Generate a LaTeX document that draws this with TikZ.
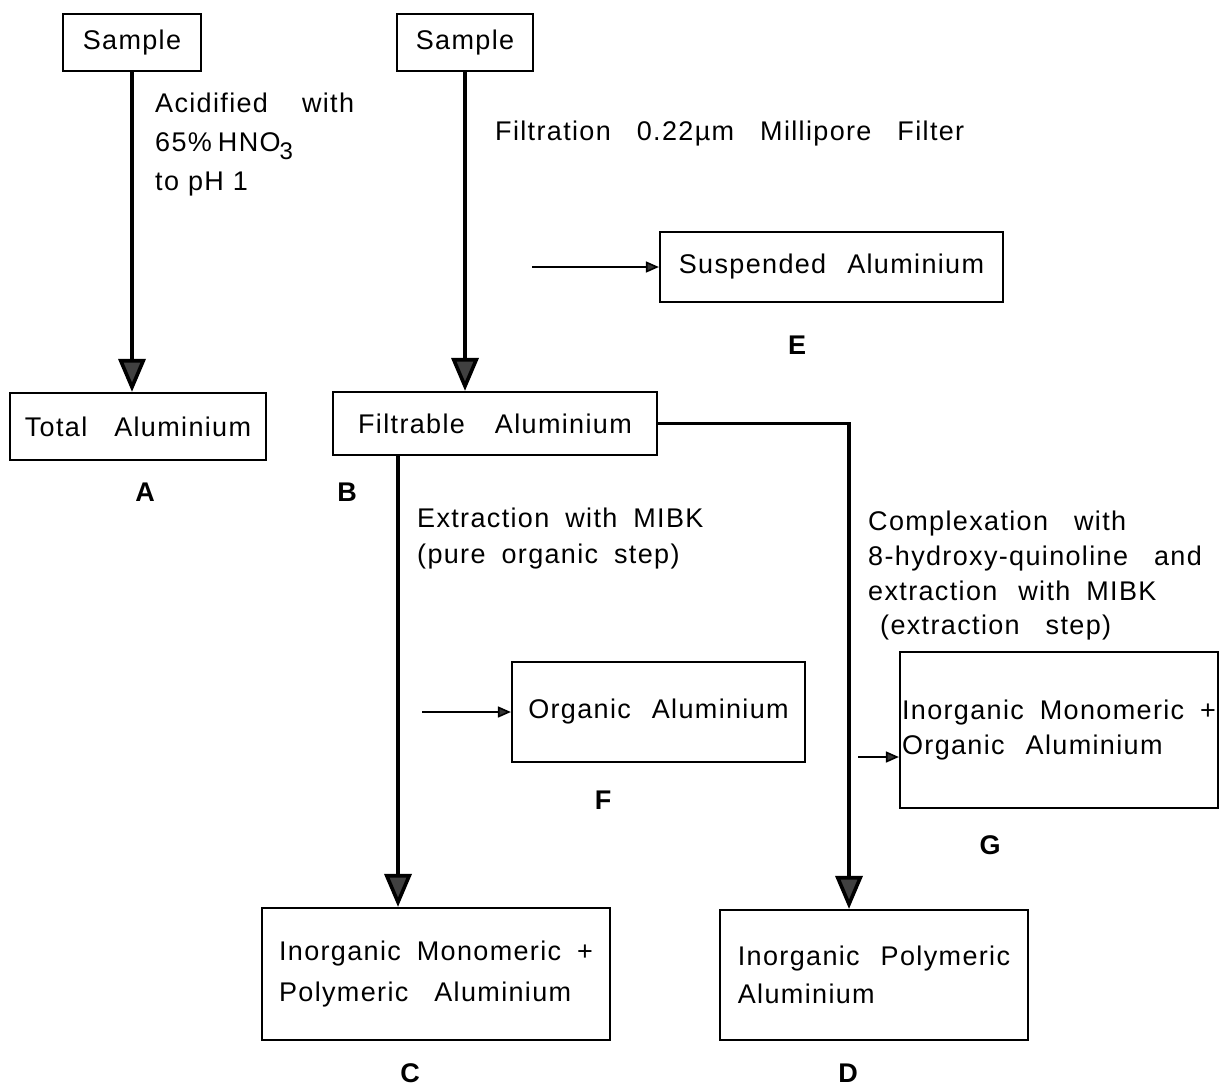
\documentclass[tikz,border=0pt]{standalone}
\usepackage{fontspec}
\setmainfont{Liberation Sans}[LetterSpace=5,WordSpace=1.8]
\usetikzlibrary{arrows.meta}
\newcommand\wgap{\hspace{26pt}}
\newcommand\mgap{\hspace{21pt}}
\begin{document}
\begin{tikzpicture}[x=1pt,y=-1pt,
  every node/.style={font=\fontsize{27}{36}\selectfont},
  box/.style={draw, line width=2.2pt, inner sep=0pt, align=left},
  txt/.style={anchor=base west, inner sep=0pt},
  lab/.style={font=\fontsize{27}{30}\selectfont\bfseries, inner sep=0pt},
  bigarrow/.style={line width=3.6pt, -{Triangle[width=27pt,length=33pt,fill=black!75]}},
  smallarrow/.style={line width=1.6pt, -{Triangle[width=11pt,length=13pt,fill=black!80]}}
]
\path[use as bounding box, fill=white] (0,0) rectangle (1220,1088);

% boxes
\node[box, minimum width=138pt, minimum height=57pt] (SA) at (132,42.5) {Sample};
\node[box, minimum width=136pt, minimum height=57pt] (SB) at (465,42.5) {Sample};
\node[box, minimum width=256pt, minimum height=67pt] (TA) at (138,426.5) {Total\hspace{27pt}Aluminium};
\node[box, minimum width=324pt, minimum height=63pt] (FB) at (495,423.5) {Filtrable\hspace{30pt}Aluminium};
\node[box, minimum width=343pt, minimum height=70pt] (E) at (831.5,267) {Suspended\mgap Aluminium};
\node[box, minimum width=293pt, minimum height=100pt] (F) at (658.5,712) {Organic\mgap Aluminium};
\node[box, minimum width=318pt, minimum height=156pt, font=\fontsize{27}{35}\selectfont] (G) at (1059,730) {Inorganic Monomeric +\\Organic\mgap Aluminium};
\node[box, minimum width=348pt, minimum height=132pt, font=\fontsize{27}{40}\selectfont] (C) at (436,974) {Inorganic Monomeric +\\Polymeric\wgap Aluminium};
\node[box, minimum width=308pt, minimum height=130pt, font=\fontsize{27}{38}\selectfont] (D) at (874,975) {Inorganic\mgap Polymeric\\Aluminium};

% free ends
\coordinate (cl) at (398,0);
\coordinate (dl) at (849,0);
\coordinate (es) at (532,267);
\coordinate (fs) at (422,712);
\coordinate (gs) at (858,757);

% connectors
\draw[bigarrow] (SA.south) -- (SA.south |- TA.north);
\draw[bigarrow] (SB.south) -- (SB.south |- FB.north);
\draw[bigarrow] (cl |- FB.south) -- (cl |- C.north);
\draw[bigarrow] (FB.east) -- (dl |- FB.east) -- (dl |- D.north);
\draw[smallarrow] (es) -- (E.west);
\draw[smallarrow] (fs) -- (F.west);
\draw[smallarrow] (gs) -- (gs -| G.west);

% step texts
\node[txt] (t1) at (155,112) {Acidified\hspace{34pt}with};
\node[txt] (t2) at (155,151) {65\%\hspace{6pt}HNO\kern-1pt\raisebox{-8pt}{\fontsize{24}{24}\selectfont 3}};
\node[txt] (t3) at (155,190) {to\hspace{9pt}pH\hspace{9pt}1};
\node[txt] (t4) at (495,140) {Filtration\wgap 0.22µm\wgap Millipore\wgap Filter};
\node[txt] (t5) at (417,527) {Extraction with MIBK};
\node[txt] (t6) at (417,563) {(pure organic step)};
\node[txt] (t7) at (868,530) {Complexation\wgap with};
\node[txt] (t8) at (868,565) {8-hydroxy-quinoline\wgap and};
\node[txt] (t9) at (868,600) {extraction\mgap with MIBK};
\node[txt] (t10) at (880,634) {(extraction\wgap step)};

% letters
\node[lab] (lA) at (145,492) {A};
\node[lab] (lB) at (347,492) {B};
\node[lab] (lC) at (410,1073) {C};
\node[lab] (lD) at (848,1073) {D};
\node[lab] (lE) at (797,345) {E};
\node[lab] (lF) at (603,800) {F};
\node[lab] (lG) at (990,845) {G};
\end{tikzpicture}
\end{document}
